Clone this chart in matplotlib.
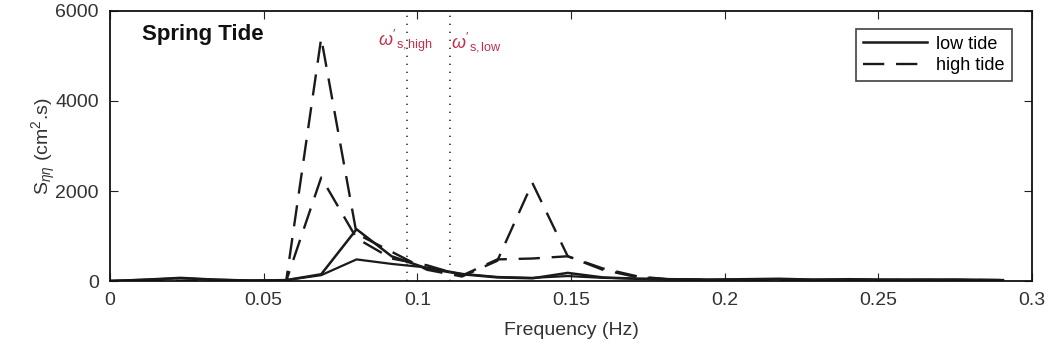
import matplotlib
matplotlib.use("Agg")
import matplotlib.pyplot as plt

plt.rcParams['font.family'] = ['Liberation Sans', 'DejaVu Sans']
plt.rcParams['mathtext.fontset'] = 'custom'
plt.rcParams['mathtext.rm'] = 'Liberation Sans'
plt.rcParams['mathtext.it'] = 'Liberation Sans:italic'

# frequency bins (Hz)
freq = [0.0, 0.0115, 0.0229, 0.0344, 0.0458, 0.0573, 0.0687, 0.0802, 0.0916,
        0.1031, 0.1145, 0.1260, 0.1374, 0.1489, 0.1603, 0.1718, 0.1832, 0.1947,
        0.2061, 0.2176, 0.2290, 0.2405, 0.2519, 0.2634, 0.2748, 0.2905]

# spectra (cm^2.s)
low_a = [0, 30, 70, 30, 10, 20, 150, 1150, 550, 280, 150, 80, 60, 180, 80, 50,
         40, 30, 40, 50, 30, 40, 30, 30, 30, 20]
low_b = [0, 30, 60, 30, 10, 20, 130, 480, 380, 300, 160, 90, 70, 110, 70, 50,
         40, 30, 30, 40, 30, 30, 30, 30, 30, 20]
high_a = [0, 0, 0, 0, 0, 0, 5400, 1050, 650, 250, 100, 450, 2180, 550, 280, 100,
          30, 20, 20, 20, 20, 20, 20, 20, 20, 20]
high_b = [0, 0, 0, 0, 0, 0, 2300, 950, 500, 350, 120, 480, 500, 550, 250, 80,
          30, 20, 20, 20, 20, 20, 20, 20, 20, 20]

# characteristic frequencies
w_high = 0.0966
w_low = 0.1107

fig = plt.figure(figsize=(10.5, 3.51), dpi=100)
ax = fig.add_axes([0.1048, 0.1994, 0.8782, 0.7693])

ax.plot(freq, low_a, color='#1a1a1a', lw=1.8, label='low tide')
ax.plot(freq, low_b, color='#1a1a1a', lw=1.6)
ax.plot(freq, high_a, color='#1a1a1a', lw=1.7, dashes=(9, 5), label='high tide')
ax.plot(freq, high_b, color='#1a1a1a', lw=1.7, dashes=(9, 5))

ax.axvline(w_high, color='#333333', lw=1.2, dashes=(0.8, 4))
ax.axvline(w_low, color='#333333', lw=1.2, dashes=(0.8, 4))
ax.text(w_high - 0.0095, 5050, r"$\omega'_{\rm s,high}$", color='#c0304a',
        fontsize=13, ha='left', va='bottom')
ax.text(w_low + 0.0003, 5050, r"$\omega'_{\rm s,low}$", color='#c0304a',
        fontsize=13, ha='left', va='bottom')

ax.text(0.0105, 5480, 'Spring Tide', fontsize=16, fontweight='bold', va='center',
        color='#111111')

ax.set_xlim(0, 0.3)
ax.set_ylim(0, 6000)
ax.set_xticks([0, 0.05, 0.1, 0.15, 0.2, 0.25, 0.3])
ax.set_xticklabels(['0', '0.05', '0.1', '0.15', '0.2', '0.25', '0.3'])
ax.set_yticks([0, 2000, 4000, 6000])
ax.tick_params(direction='in', top=True, right=True, labelsize=14, length=6,
               colors='#222222', labelcolor='#333333', pad=8)
for s in ax.spines.values():
    s.set_linewidth(1.3)
    s.set_color('#111111')

ax.set_xlabel('Frequency (Hz)', fontsize=14, color='#333333', labelpad=9)
ax.set_ylabel(r'S$_{\eta\eta}$ (cm$^2$.s)', fontsize=14, color='#333333', labelpad=-2)

leg = ax.legend(loc='upper right', bbox_to_anchor=(0.978, 0.935), fontsize=13,
                frameon=True, fancybox=False, handlelength=3.55, borderpad=0.4,
                labelspacing=0.25, handletextpad=0.5, borderaxespad=0)
leg.get_frame().set_edgecolor('#111111')
leg.get_frame().set_linewidth(1.2)

fig.savefig('out.png', dpi=100)
